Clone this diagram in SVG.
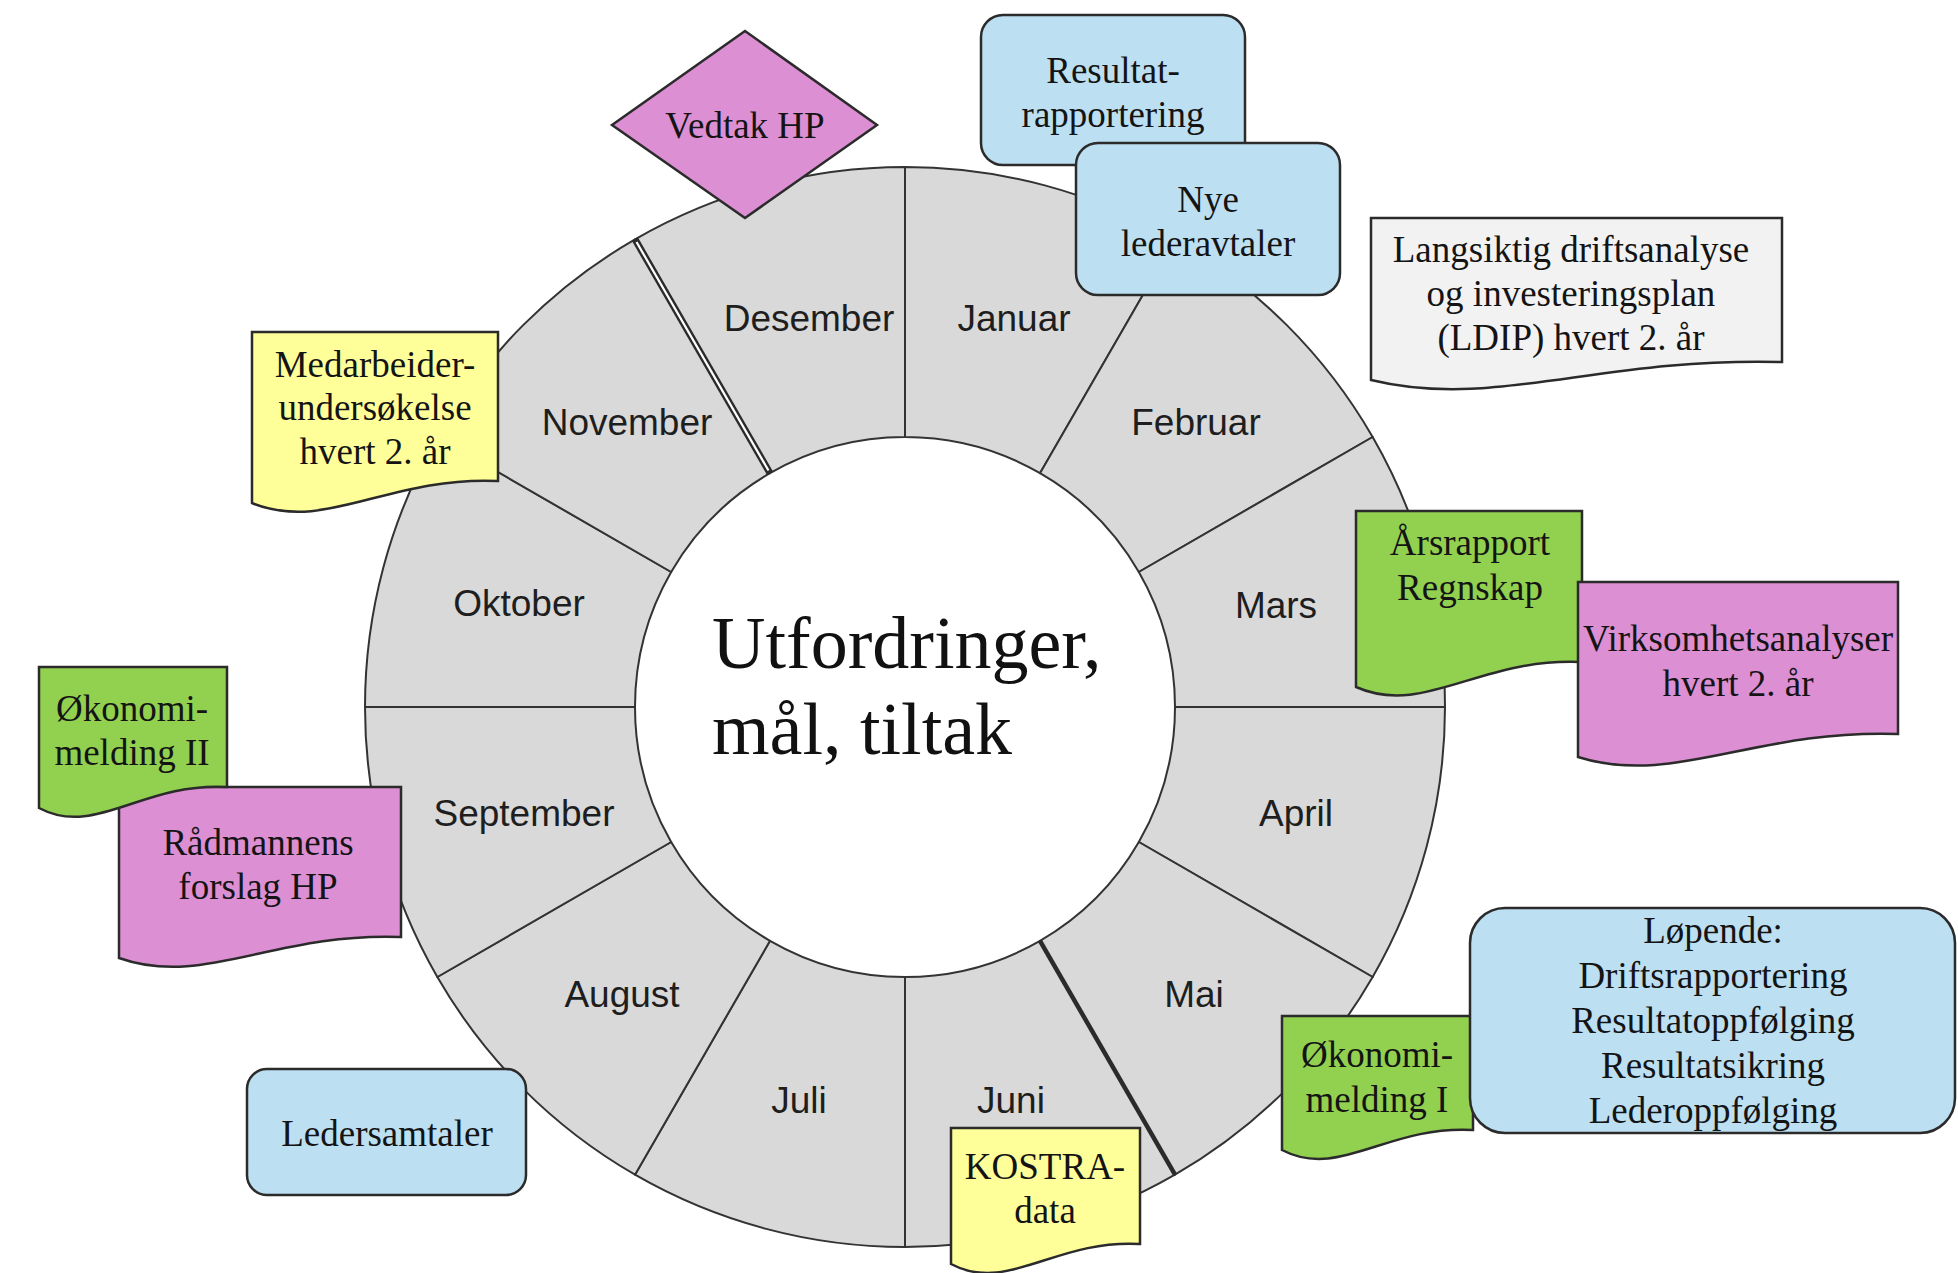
<svg xmlns="http://www.w3.org/2000/svg" width="1958" height="1273" viewBox="0 0 1958 1273">
<style>
.seg{fill:#d9d9d9;stroke:#333;stroke-width:2;stroke-linejoin:round}
.mon{font-family:"Liberation Sans",Arial,sans-serif;font-size:37px;fill:#1e1e1e;text-anchor:middle}
.lbl{font-family:"Liberation Serif","Times New Roman",serif;font-size:37px;fill:#141414;text-anchor:middle}
.ctr{font-family:"Liberation Serif","Times New Roman",serif;font-size:74px;fill:#111}
.blue{fill:#bddff2;stroke:#2b2b2b;stroke-width:2.5}
.mag{fill:#dc8fd3;stroke:#2b2b2b;stroke-width:2.5}
.grn{fill:#92d050;stroke:#2b2b2b;stroke-width:2.5}
.yel{fill:#ffff99;stroke:#2b2b2b;stroke-width:2.5}
.gry{fill:#f2f2f2;stroke:#2b2b2b;stroke-width:2.5}
</style>
<rect width="1958" height="1273" fill="#fff"/>
<g id="wheel">
  <g id="m-januar"><path class="seg" d="M905,167 A540,540 0 0 1 1175,239.35 L1040,473.17 A270,270 0 0 0 905,437 Z"/><text class="mon" x="1014" y="331">Januar</text></g>
  <g id="m-februar"><path class="seg" d="M1175,239.35 A540,540 0 0 1 1372.65,437 L1138.83,572 A270,270 0 0 0 1040,473.17 Z"/><text class="mon" x="1196" y="435">Februar</text></g>
  <g id="m-mars"><path class="seg" d="M1372.65,437 A540,540 0 0 1 1445,707 L1175,707 A270,270 0 0 0 1138.83,572 Z"/><text class="mon" x="1276" y="618">Mars</text></g>
  <g id="m-april"><path class="seg" d="M1445,707 A540,540 0 0 1 1372.65,977 L1138.83,842 A270,270 0 0 0 1175,707 Z"/><text class="mon" x="1296" y="826">April</text></g>
  <g id="m-mai"><path class="seg" d="M1372.65,977 A540,540 0 0 1 1175,1174.65 L1040,940.83 A270,270 0 0 0 1138.83,842 Z"/><text class="mon" x="1194" y="1007">Mai</text></g>
  <g id="m-juni"><path class="seg" d="M1175,1174.65 A540,540 0 0 1 905,1247 L905,977 A270,270 0 0 0 1040,940.83 Z"/><text class="mon" x="1011" y="1113">Juni</text></g>
  <g id="m-juli"><path class="seg" d="M905,1247 A540,540 0 0 1 635,1174.65 L770,940.83 A270,270 0 0 0 905,977 Z"/><text class="mon" x="799" y="1113">Juli</text></g>
  <g id="m-august"><path class="seg" d="M635,1174.65 A540,540 0 0 1 437.35,977 L671.17,842 A270,270 0 0 0 770,940.83 Z"/><text class="mon" x="622" y="1007">August</text></g>
  <g id="m-september"><path class="seg" d="M437.35,977 A540,540 0 0 1 365,707 L635,707 A270,270 0 0 0 671.17,842 Z"/><text class="mon" x="524" y="826">September</text></g>
  <g id="m-oktober"><path class="seg" d="M365,707 A540,540 0 0 1 437.35,437 L671.17,572 A270,270 0 0 0 635,707 Z"/><text class="mon" x="519" y="616">Oktober</text></g>
  <g id="m-november"><path class="seg" d="M437.35,437 A540,540 0 0 1 635,239.35 L770,473.17 A270,270 0 0 0 671.17,572 Z"/><text class="mon" x="627" y="435">November</text></g>
  <g id="m-desember"><path class="seg" d="M635,239.35 A540,540 0 0 1 905,167 L905,437 A270,270 0 0 0 770,473.17 Z"/><text class="mon" x="809" y="331">Desember</text></g>
  <line x1="635" y1="239.35" x2="770" y2="473.17" stroke="#2b2b2b" stroke-width="7"/>
  <line x1="636.5" y1="242" x2="768.5" y2="470.5" stroke="#fff" stroke-width="2.2"/>
  <line x1="1040" y1="940.83" x2="1175" y2="1174.65" stroke="#2b2b2b" stroke-width="4.5"/>
</g>
<g id="center">
  <text class="ctr" x="712" y="668">Utfordringer,</text>
  <text class="ctr" x="712" y="754">mål, tiltak</text>
</g>
<g id="connectors"></g>
<g id="vedtak-hp"><polygon class="mag" points="612,125 745,31 877,125 745,218"/><text class="lbl" x="745" y="138">Vedtak HP</text></g>
<g id="resultatrapportering"><rect class="blue" x="981" y="15" width="264" height="150" rx="22"/><text class="lbl" x="1113" y="83">Resultat-</text><text class="lbl" x="1113" y="127">rapportering</text></g>
<g id="nye-lederavtaler"><rect class="blue" x="1076" y="143" width="264" height="152" rx="22"/><text class="lbl" x="1208" y="212">Nye</text><text class="lbl" x="1208" y="256">lederavtaler</text></g>
<g id="ldip"><path class="gry" d="M1371,218 H1782 V362 C1597,357 1494.3,410 1371,380 Z"/><text class="lbl" x="1571" y="262">Langsiktig driftsanalyse</text><text class="lbl" x="1571" y="306">og investeringsplan</text><text class="lbl" x="1571" y="350">(LDIP) hvert 2. år</text></g>
<g id="arsrapport"><path class="grn" d="M1356,511 H1582 V662 C1480.3,657 1423.8,717 1356,687 Z"/><text class="lbl" x="1470" y="555">Årsrapport</text><text class="lbl" x="1470" y="600">Regnskap</text></g>
<g id="virksomhetsanalyser"><path class="mag" d="M1578,582 H1898 V734 C1754,729 1674,787 1578,757 Z"/><text class="lbl" x="1738" y="651">Virksomhetsanalyser</text><text class="lbl" x="1738" y="696">hvert 2. år</text></g>
<g id="okonomimelding-1"><path class="grn" d="M1282,1016 H1473 V1130 C1387,1125 1339.3,1180 1282,1150 Z"/><text class="lbl" x="1377" y="1067">Økonomi-</text><text class="lbl" x="1377" y="1112">melding I</text></g>
<g id="lopende"><rect class="blue" x="1470" y="908" width="485" height="225" rx="35"/><text class="lbl" x="1713" y="943">Løpende:</text><text class="lbl" x="1713" y="988">Driftsrapportering</text><text class="lbl" x="1713" y="1033">Resultatoppfølging</text><text class="lbl" x="1713" y="1078">Resultatsikring</text><text class="lbl" x="1713" y="1123">Lederoppfølging</text></g>
<g id="kostra"><path class="yel" d="M951,1128 H1140 V1244 C1055,1239 1007.7,1294 951,1264 Z"/><text class="lbl" x="1045" y="1179">KOSTRA-</text><text class="lbl" x="1045" y="1223">data</text></g>
<g id="ledersamtaler"><rect class="blue" x="247" y="1069" width="279" height="126" rx="20"/><text class="lbl" x="387" y="1146">Ledersamtaler</text></g>
<g id="radmannens-forslag"><path class="mag" d="M119,787 H401 V937 C274.1,932 203.6,988 119,958 Z"/><text class="lbl" x="258" y="855">Rådmannens</text><text class="lbl" x="258" y="899">forslag HP</text></g>
<g id="okonomimelding-2"><path class="grn" d="M39,667 H227 V787 C142.4,782 95.4,838 39,808 Z"/><text class="lbl" x="132" y="721">Økonomi-</text><text class="lbl" x="132" y="765">melding II</text></g>
<g id="medarbeiderundersokelse"><path class="yel" d="M252,332 H498 V481 C387.3,476 325.8,533 252,503 Z"/><text class="lbl" x="375" y="377">Medarbeider-</text><text class="lbl" x="375" y="420">undersøkelse</text><text class="lbl" x="375" y="464">hvert 2. år</text></g>
</svg>
